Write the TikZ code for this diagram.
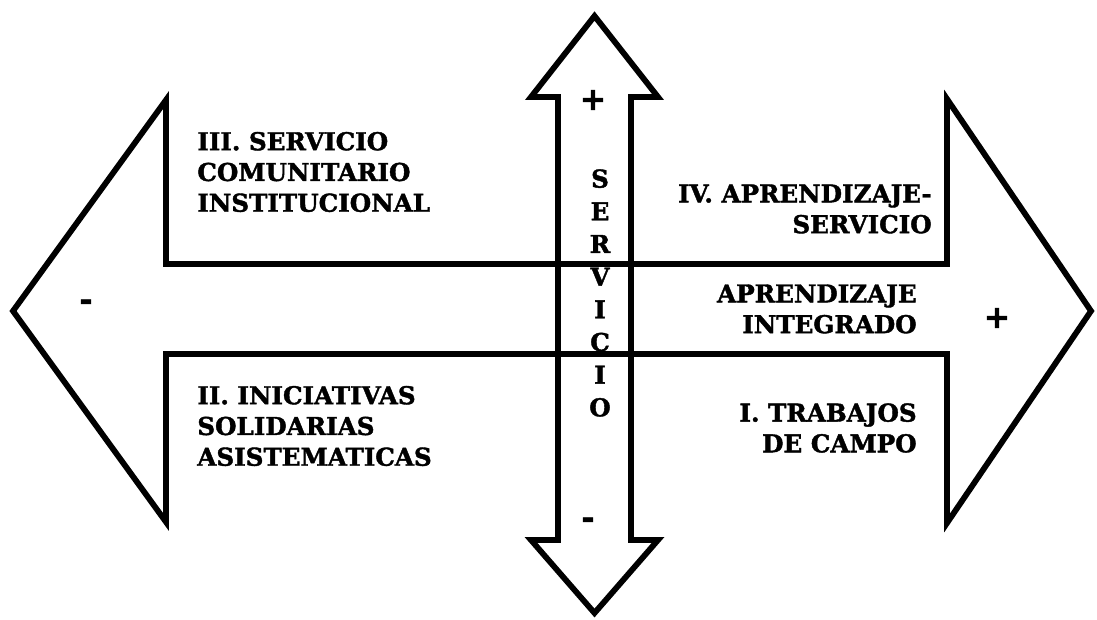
\documentclass[tikz,border=0pt]{standalone}
\usepackage{fontspec}
\setmainfont{DejaVu Serif}[BoldFeatures={FakeBold=1.6}]
\usepackage{tikz}

\tikzset{
    bigarrow/.style={line width=3.3pt, line join=miter, miter limit=20},
    quadtext/.style={font=\bfseries\fontsize{14}{17.5}\selectfont, inner sep=0pt},
    signtext/.style={font=\bfseries\fontsize{18}{18}\selectfont, inner sep=0pt}
}

\begin{document}
\begin{tikzpicture}[x=0.02cm, y=-0.02cm]
    \useasboundingbox (0,0) rectangle (1097,619);
    \draw[bigarrow] (13,311) -- (166,100) -- (166,264) -- (947,264) -- (947,99) -- (1091,311)
        -- (947,523) -- (947,354) -- (166,354) -- (166,522) -- cycle;
    \draw[bigarrow] (594.5,16) -- (658,97) -- (631,97) -- (631,540) -- (658,540) -- (594.5,613)
        -- (531,540) -- (558,540) -- (558,97) -- (531,97) -- cycle;
    \node[quadtext, anchor=west, align=left] (Q3) at (197,172) {III. SERVICIO\\COMUNITARIO\\INSTITUCIONAL};
    \node[quadtext, anchor=west, align=left] (Q2) at (197,426) {II. INICIATIVAS\\SOLIDARIAS\\ASISTEMATICAS};
    \node[quadtext, anchor=east, align=right] (Q4) at (932,209) {IV. APRENDIZAJE-\\SERVICIO};
    \node[quadtext, anchor=east, align=right] (AI) at (917,309) {APRENDIZAJE\\INTEGRADO};
    \node[quadtext, anchor=east, align=right] (Q1) at (917,428) {I. TRABAJOS\\DE CAMPO};
    \node[quadtext, align=center, font=\bfseries\fontsize{14}{18.6}\selectfont] (S) at (600,293)
        {S\\E\\R\\V\\I\\C\\I\\O};
    \node[signtext] (Ptop) at (593,100) {+};
        \node[signtext] (Mbot) at (588,523) {-};
    \node[signtext] (Mleft) at (86,305) {-};
        \node[signtext] (Pright) at (997,318) {+};
\end{tikzpicture}
\end{document}
